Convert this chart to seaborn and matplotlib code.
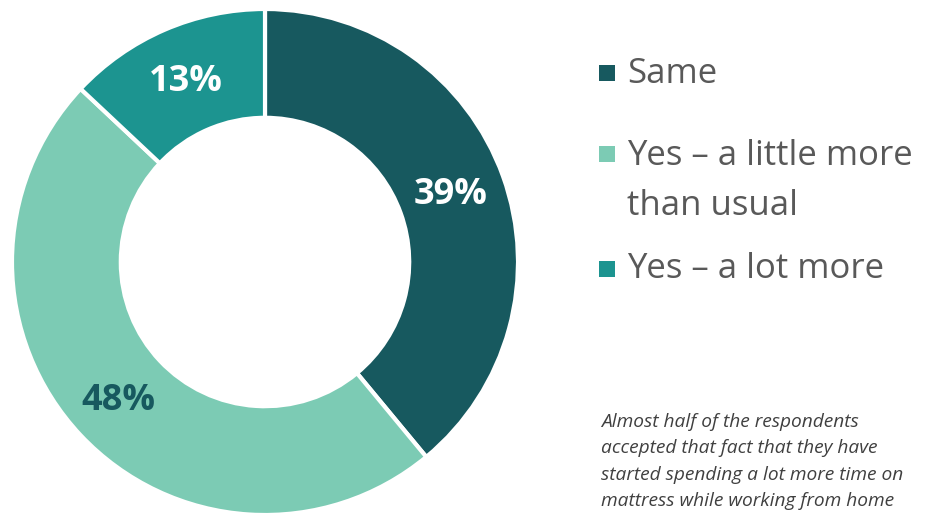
import matplotlib
matplotlib.use("Agg")
import matplotlib.pyplot as plt
import seaborn as sns
from matplotlib.patches import Rectangle

categories = ["Same", "Yes – a little more\nthan usual", "Yes – a lot more"]
values = [39, 48, 13]
pct_labels = ["39%", "48%", "13%"]
colors = ["#17595F", "#7CCBB4", "#1C9490"]
label_colors = ["white", "#17595F", "white"]
caption_lines = ["Almost half of the respondents",
                 "accepted that fact that they have",
                 "started spending a lot more time on",
                 "mattress while working from home"]

sns.set_theme(style="white")
plt.rcParams['font.family'] = ['Open Sans', 'DejaVu Sans']

W, H = 934, 513
fig = plt.figure(figsize=(W / 100, H / 100), dpi=100)
ax = fig.add_axes([0, 0, 1, 1])

cx, cy, R = 265, H - 262, 253
wedges, _ = ax.pie(values, colors=sns.color_palette(colors), startangle=90, counterclock=False,
                   center=(cx, cy), radius=R, frame=True,
                   wedgeprops=dict(width=R * 0.43, edgecolor="white", linewidth=3))
ax.set_xlim(0, W)
ax.set_ylim(0, H)
ax.set_aspect("equal")
ax.axis("off")

# percentage labels
label_pos = [(451, 195), (118, 401), (186, 82)]
for (x, y), t, c in zip(label_pos, pct_labels, label_colors):
    ax.text(x, H - y, t, color=c, fontsize=26, fontweight="bold",
            ha="center", va="center")

# legend (manual)
square_top = [65, 146, 261]
baselines = [[83], [165, 215], [278]]
for st, bls, lab, col in zip(square_top, baselines, categories, colors):
    ax.add_patch(Rectangle((599, H - st - 16), 16, 16, facecolor=col, edgecolor="none"))
    for bl, line in zip(bls, lab.split("\n")):
        ax.text(627, H - bl, line, color="#595959", fontsize=25, ha="left", va="baseline")

caption_baselines = [427, 453, 480, 506]
for bl, line in zip(caption_baselines, caption_lines):
    ax.text(601, H - bl, line, color="#404040", fontsize=13.8, style="italic",
            ha="left", va="baseline")

fig.savefig("out.png", dpi=100)
